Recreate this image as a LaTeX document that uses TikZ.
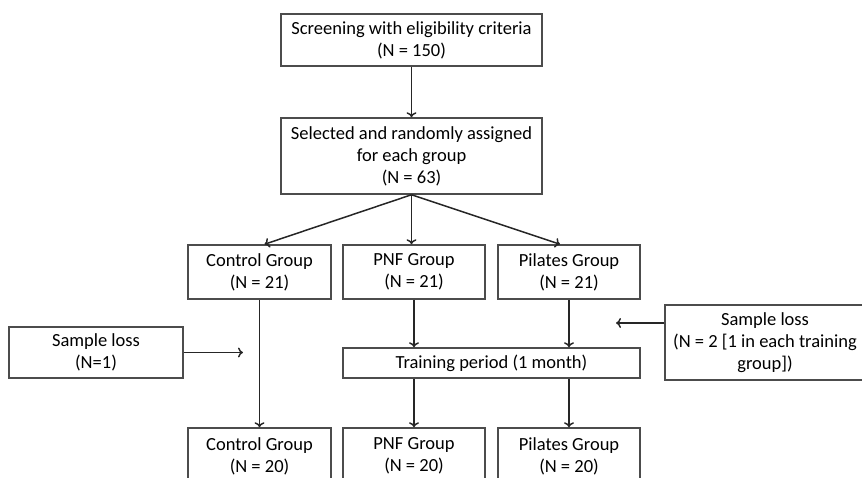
\documentclass[tikz,border=0pt]{standalone}
\usepackage{fontspec}
\setmainfont{Carlito}
\usepackage{tikz}
\usetikzlibrary{arrows.meta}
\tikzset{
	box/.style={draw=black!70, line width=1.5pt, fill=white, align=center, inner sep=2pt,
		font=\fontsize{18.5}{22}\selectfont},
	link/.style={-{To[length=5pt,width=10pt]}, line width=1.5pt, black!85}
}
\begin{document}
\begin{tikzpicture}[x=1pt, y=-1pt]
		\useasboundingbox (0,0) rectangle (862,477);
		\clip (0,0) rectangle (862,477);
		
		% top of the chart
		\node [box, minimum width=261, minimum height=52] (screen) at (411.5,40) {Screening with eligibility criteria\\(N = 150)};
		\node [box, minimum width=261, minimum height=76] (select) at (411.5,156) {Selected and randomly assigned\\for each group\\(N = 63)};
		
		% groups before
		\node [box, minimum width=143, minimum height=54] (ctrlpre) at (259.5,272) {Control Group\\(N = 21)};
		\node [box, minimum width=142, minimum height=54] (pnfpre) at (414,272) {PNF Group\\(N = 21)};
		\node [box, minimum width=142, minimum height=54] (pilpre) at (569,272) {Pilates Group\\(N = 21)};
		
		\node [box, minimum width=297, minimum height=30] (train) at (491.5,363) {Training period (1 month)};
		
		% groups after
		\node [box, minimum width=143, minimum height=56] (ctrlpost) at (259.5,456) {Control Group\\(N = 20)};
		\node [box, minimum width=142, minimum height=56] (pnfpost) at (414,456) {PNF Group\\(N = 20)};
		\node [box, minimum width=142, minimum height=56] (pilpost) at (569,456) {Pilates Group\\(N = 20)};
		
		% losses
		\node [box, minimum width=174, minimum height=51] (lossL) at (96,352.5) {Sample loss\\(N=1)};
		\node [box, minimum width=200, minimum height=75] (lossR) at (765,342.5) {Sample loss\\(N = 2 [1 in each training\\group])};
		\coordinate (lossLend) at (243,352.5);
		\coordinate (lossRend) at (616,323);
		
		\draw [link] (screen) -- (select);
		\draw [link] (select.south) -- ([xshift=5pt]ctrlpre.north);
		\draw [link] (select.south) -- (select.south |- pnfpre.north);
		\draw [link] (select.south) -- ([xshift=-9pt]pilpre.north);
		
		\draw [link] (ctrlpre) -- (ctrlpost);
		\draw [link] (pnfpre.south) -- (pnfpre.south |- train.north);
		\draw [link] (pilpre.south) -- (pilpre.south |- train.north);
		\draw [link] (pnfpre.south |- train.south) -- (pnfpost.north);
		\draw [link] (pilpre.south |- train.south) -- (pilpost.north);
		
		\draw [link] (lossL.east) -- (lossLend);
		\draw [link] (lossR.west |- lossRend) -- (lossRend);
		
\end{tikzpicture}
\end{document}
